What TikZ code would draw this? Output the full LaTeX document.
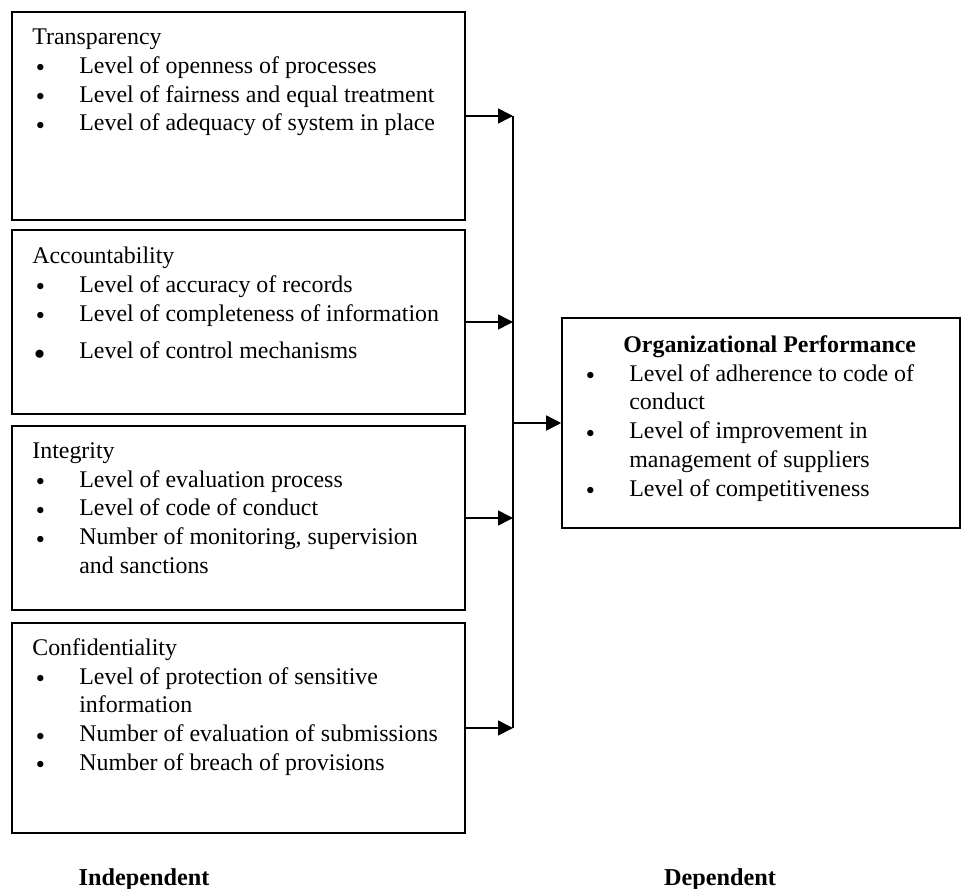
\documentclass[tikz,border=0pt]{standalone}
\usepackage{fontspec}
\setmainfont{Liberation Serif}
\usepackage{tikz}
\usetikzlibrary{arrows.meta, positioning}

\newcommand{\bul}{\hspace*{0.08cm}\makebox[0.86cm][l]{\raisebox{0.9pt}{\small$\bullet$}}}
\newcommand{\bigbul}{\hspace*{0.04cm}\makebox[0.9cm][l]{\raisebox{-0.3pt}{\large$\bullet$}}}
\newcommand{\indt}{\hspace*{0.94cm}}

\begin{document}
\begin{tikzpicture}[
    var/.style={draw, line width=0.9pt, rectangle, minimum width=9.06cm, inner sep=0pt},
    items/.style={anchor=north west, align=left, inner sep=0pt, font=\fontsize{13.6}{16.4}\selectfont},
    feed/.style={-{Triangle[length=0.3cm, width=0.3cm]}, line width=0.9pt},
    tag/.style={anchor=base, font=\fontsize{13.8}{16.4}\selectfont\bfseries}
]

    \useasboundingbox (0, 0) rectangle (19.22, -17.78);

    % Independent variables
    \node[var, minimum height=4.16cm] (transp) at (4.77, -2.32) {};
    \node[var, minimum height=3.68cm] (account) at (4.77, -6.44) {};
    \node[var, minimum height=3.68cm] (integ) at (4.77, -10.36) {};
    \node[var, minimum height=4.2cm] (confid) at (4.77, -14.56) {};

    % Dependent variable
    \node[var, minimum width=7.96cm, minimum height=4.2cm] (perf) at (15.22, -8.46) {};

    % Box texts
    \node[items] (transp_txt) at (0.64, -0.57) {Transparency\\
        \bul Level of openness of processes\\
        \bul Level of fairness and equal treatment\\
        \bul Level of adequacy of system in place};

    \node[items] (account_txt) at (0.64, -4.93) {Accountability\\
        \bul Level of accuracy of records\\
        \bul Level of completeness of information\\[0.18cm]
        \bigbul Level of control mechanisms};

    \node[items] (integ_txt) at (0.64, -8.84) {Integrity\\
        \bul Level of evaluation process\\
        \bul Level of code of conduct\\
        \bul Number of monitoring, supervision\\
        \indt and sanctions};

    \node[items] (confid_txt) at (0.64, -12.76) {Confidentiality\\
        \bul Level of protection of sensitive\\
        \indt information\\
        \bul Number of evaluation of submissions\\
        \bul Number of breach of provisions};

    \node[items] (perf_txt) at (11.64, -6.7) {\hspace*{0.82cm}\textbf{Organizational Performance}\\
        \bul Level of adherence to code of\\
        \indt conduct\\
        \bul Level of improvement in\\
        \indt management of suppliers\\
        \bul Level of competitiveness};

    % Connectors
    \coordinate (bus_top) at (10.26, -2.32);
    \coordinate (bus_bot) at (10.26, -14.56);
    \draw[line width=0.9pt] (bus_top) -- (bus_bot);

    \draw[feed] (transp.east) -- (transp.east -| bus_top);
    \draw[feed] (account.east) -- (account.east -| bus_top);
    \draw[feed] (integ.east) -- (integ.east -| bus_top);
    \draw[feed] (confid.east) -- (confid.east -| bus_top);
    \draw[feed] (perf.west -| bus_top) -- (perf.west);

    % Labels
    \node[tag] (indep) at (2.88, -17.7) {Independent};
    \node[tag] (dep) at (14.4, -17.7) {Dependent};

\end{tikzpicture}
\end{document}
